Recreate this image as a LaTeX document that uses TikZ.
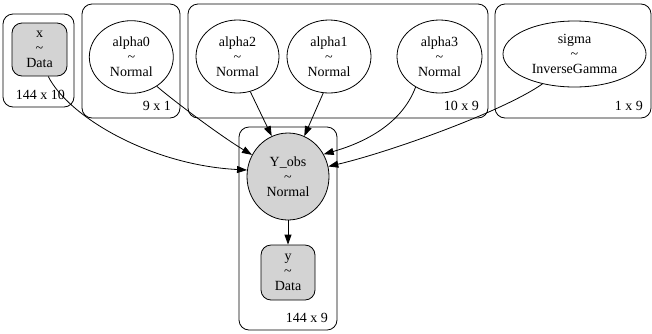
\documentclass[tikz,border=0pt]{standalone}
\usepackage{fontspec}
\setmainfont{Liberation Serif}
\usetikzlibrary{shapes.geometric,arrows.meta}
\definecolor{gvgray}{HTML}{D3D3D3}
\begin{document}
\begin{tikzpicture}[x=1pt,y=-1pt,
  every node/.style={font=\fontsize{14}{15}\selectfont, align=center, inner sep=0pt},
  plate/.style={draw, line width=0.8pt, rounded corners=10pt},
  platelabel/.style={anchor=base east},
  rv/.style={draw, ellipse, line width=0.8pt},
  obs/.style={draw, rectangle, rounded corners=10pt, fill=gvgray, line width=0.8pt},
  edge/.style={draw, line width=0.8pt, -{Triangle[length=10pt,width=7pt]}}]
\useasboundingbox (0,0) rectangle (652,333);
% plates
\draw[plate] (3,14) rectangle (74,107);
\draw[plate] (82,4) rectangle (180,118);
\draw[plate] (188,4) rectangle (488,118);
\draw[plate] (495,4) rectangle (651,118);
\draw[plate] (239,127) rectangle (337,330);
\node[platelabel] (lx) at (65,99.5) {144 x 10};
\node[platelabel] (l0) at (171,110.5) {9 x 1};
\node[platelabel] (l1) at (479,110.5) {10 x 9};
\node[platelabel] (l2) at (643,110.5) {1 x 9};
\node[platelabel] (l3) at (328,322) {144 x 9};
% nodes
\node[obs, minimum width=55pt, minimum height=53pt] (x) at (39.5,49.5) {x\\\textasciitilde\\Data};
\node[rv, minimum width=84pt, minimum height=72.6pt] (alpha0) at (131.3,57) {alpha0\\\textasciitilde\\Normal};
\node[rv, minimum width=83pt, minimum height=73pt] (alpha2) at (237.5,56.5) {alpha2\\\textasciitilde\\Normal};
\node[rv, minimum width=84pt, minimum height=73pt] (alpha1) at (329,56.5) {alpha1\\\textasciitilde\\Normal};
\node[rv, minimum width=85pt, minimum height=73pt] (alpha3) at (439.5,56.5) {alpha3\\\textasciitilde\\Normal};
\node[rv, minimum width=143pt, minimum height=66pt] (sigma) at (574.5,54) {sigma\\\textasciitilde\\InverseGamma};
\node[rv, fill=gvgray, minimum width=82pt, minimum height=87pt] (yobs) at (288,176.5) {Y\_obs\\\textasciitilde\\Normal};
\node[obs, minimum width=54pt, minimum height=55pt] (y) at (288,272.5) {y\\\textasciitilde\\Data};
% edges
\draw[edge] (x.-72) .. controls +(20,40) and +(-97,-5) .. (yobs.171);
\draw[edge] (alpha0.-49) .. controls +(20,17) and +(-30,-18) .. (yobs.149);
\draw[edge] (alpha2.-70) -- (yobs.112);
\draw[edge] (alpha1.-99) -- (yobs.68);
\draw[edge] (alpha3.-128) .. controls +(-15,40) and +(35,-10) .. (yobs.32);
\draw[edge] (sigma.-137) .. controls +(-40,28) and +(60,-14) .. (yobs.14);
\draw[edge] (yobs) -- (y);
\end{tikzpicture}
\end{document}
